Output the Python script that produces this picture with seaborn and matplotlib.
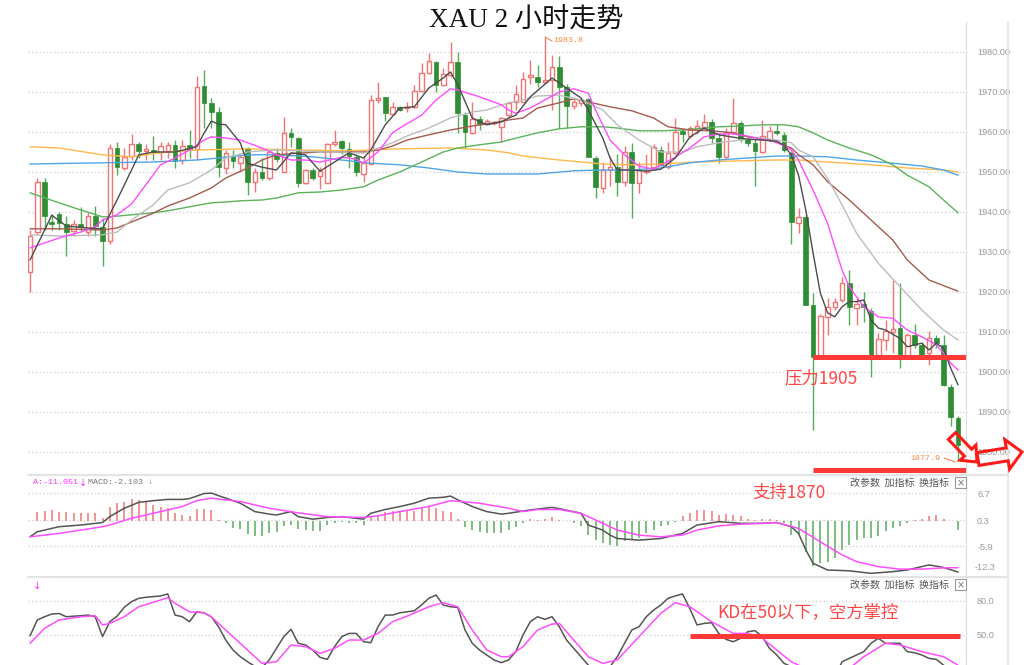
import numpy as np
import matplotlib
matplotlib.use('Agg')
import matplotlib.pyplot as plt
import seaborn as sns
from matplotlib.patches import Polygon, Rectangle
from matplotlib.lines import Line2D

sns.set_style('white')
plt.rcParams['font.family'] = ['Noto Sans CJK SC', 'DejaVu Sans']

# ---------------- data (2-hour XAU candles) ----------------
opens = [1925, 1935, 1947.5, 1937.5, 1939.5, 1937, 1935.2, 1937, 1935, 1939,
         1936.3, 1932.8, 1956, 1951, 1954, 1957, 1955.3, 1955.5, 1955, 1955.2,
         1956.7, 1953, 1956.8, 1955.7, 1971.4, 1967.3, 1965, 1951, 1954.1, 1952.2,
         1955.9, 1947.6, 1949.9, 1948.4, 1954.8, 1950, 1959.8, 1958.4, 1947.3, 1950.6,
         1949, 1947.3, 1956.9, 1957.8, 1955.7, 1953.7, 1949.5, 1952, 1968, 1968.7,
         1964.4, 1966.3, 1966, 1966.3, 1970.3, 1974.8, 1977.6, 1971.8, 1974.3, 1977.6,
         1964.3, 1959.7, 1963.2, 1962.3, 1962.3, 1961.3, 1964.3, 1967.6, 1967.6, 1973.8,
         1973.8, 1972.6, 1973, 1976.3, 1971.2, 1966.5, 1967.3, 1968.2, 1953.4, 1945.9,
         1950.5, 1951.3, 1947.6, 1955.1, 1947.2, 1950, 1951.3, 1955.5, 1951.3, 1954.7,
         1960.2, 1959, 1960.5, 1961.3, 1962.6, 1958.4, 1953.8, 1960.1, 1962.2, 1958.2,
         1957.3, 1955.1, 1958, 1960.2, 1959.3, 1954.8, 1937.2, 1938.8, 1916.8, 1903.8,
         1913.8, 1916.3, 1918, 1922.2, 1916, 1917, 1915.3, 1904.3, 1908, 1910,
         1910.9, 1904.1, 1909.3, 1906.8, 1904.7, 1908.4, 1906.8, 1896.3, 1888.4]
highs = [1935.5, 1948.5, 1948.5, 1939.5, 1940, 1939, 1938, 1941.3, 1940, 1941.5,
         1938.5, 1957, 1957.5, 1956, 1959.5, 1957.5, 1957, 1959, 1957.5, 1957.5,
         1958, 1958, 1960.5, 1974, 1975.5, 1968.5, 1966.3, 1955.5, 1955.5, 1954.5,
         1956.3, 1951, 1953.5, 1955.5, 1956, 1963.7, 1961, 1958.8, 1950.8, 1951,
         1951.2, 1957.2, 1960.5, 1958, 1957.5, 1954.5, 1953.8, 1969.3, 1972.6, 1968.8,
         1967.5, 1966.5, 1967.5, 1971.8, 1977.2, 1979.7, 1977.8, 1976, 1982.6, 1980.1,
         1965, 1967.6, 1964, 1963.2, 1962.8, 1963.8, 1967.5, 1971.8, 1975.1, 1978,
         1976.8, 1983.8, 1979.3, 1979, 1972, 1968.2, 1968.5, 1968.5, 1954, 1952.5,
         1954, 1954.5, 1956.5, 1957.2, 1952.5, 1954.5, 1957, 1956.5, 1957.5, 1963.4,
         1961, 1961.5, 1963, 1964.5, 1963.2, 1959.5, 1961, 1968.4, 1962.8, 1959,
         1958.5, 1963, 1961.5, 1962, 1960, 1955.2, 1940.9, 1939.5, 1919.7, 1914.5,
         1918.4, 1918.5, 1923.8, 1925.5, 1918.5, 1920, 1916, 1909.8, 1913, 1923,
         1922.2, 1909.8, 1912, 1907.5, 1910.2, 1909.2, 1909.2, 1897, 1889]
lows = [1920, 1934.5, 1935.5, 1935.5, 1935.5, 1929, 1934, 1935, 1934, 1934,
        1926.5, 1932, 1949.2, 1950.5, 1953, 1953.5, 1953, 1953, 1953, 1953.5,
        1951, 1952, 1953.5, 1953, 1961, 1961, 1948.8, 1949.5, 1951, 1950,
        1944.3, 1945, 1948, 1948, 1952.5, 1950, 1956.3, 1946.3, 1947, 1948,
        1945.8, 1947.3, 1956.5, 1954.5, 1951, 1949, 1947.6, 1952, 1967.2, 1962.8,
        1964.2, 1965.2, 1965, 1966, 1970.1, 1974.5, 1970.1, 1971.5, 1973.8, 1959.7,
        1955.9, 1959.5, 1960.5, 1962, 1961.8, 1957.6, 1963.5, 1965.5, 1967.6, 1972,
        1971.3, 1972, 1965.5, 1961, 1961, 1965.8, 1966.5, 1953.8, 1943.4, 1944.7,
        1946.5, 1943.9, 1946.5, 1938.4, 1944.7, 1949.5, 1950.5, 1951.5, 1950.8, 1954.5,
        1957.5, 1958.5, 1959.5, 1960.5, 1957.3, 1952.2, 1953.5, 1959.5, 1957.5, 1956.5,
        1946.4, 1954.8, 1957.5, 1959.3, 1955, 1932, 1934.7, 1916.8, 1885.5, 1903.5,
        1909.3, 1915.5, 1917.5, 1911.8, 1911.8, 1912.5, 1898.8, 1903.8, 1905.5, 1904.7,
        1900.9, 1903.8, 1906, 1903.8, 1901.8, 1906, 1896.5, 1886.5, 1877.9]
closes = [1934, 1947.5, 1939, 1937, 1937.2, 1935, 1937, 1936.3, 1939, 1936.5,
          1932.8, 1956, 1951.3, 1953.8, 1957, 1955.2, 1955.8, 1955, 1956.5, 1956.7,
          1952.8, 1956.5, 1955.5, 1971.3, 1967.3, 1965, 1951.3, 1954.7, 1952.8, 1953.8,
          1947.6, 1950.1, 1948.5, 1955.1, 1953.2, 1959.8, 1958.8, 1947.3, 1950.6, 1948.5,
          1950.3, 1957, 1957.6, 1955.9, 1954, 1949.9, 1952.2, 1968, 1968.6, 1964.8,
          1966.3, 1965.5, 1966.3, 1970.3, 1974.8, 1977.8, 1971.8, 1974.5, 1977.6, 1964.7,
          1960.1, 1963.2, 1962, 1962.8, 1962.6, 1963.5, 1967.2, 1969.5, 1973.3, 1974.2,
          1972.6, 1973, 1976.3, 1971.3, 1966.5, 1967.6, 1968, 1953.8, 1946.3, 1950.5,
          1951.3, 1947.6, 1955.1, 1947.2, 1950.5, 1950.6, 1956.3, 1951.8, 1954.7, 1960.1,
          1959.6, 1960.9, 1961.5, 1962.6, 1958.4, 1953.8, 1960.1, 1962.2, 1958.2, 1957.3,
          1955.3, 1959, 1960.3, 1959.7, 1955.5, 1937.6, 1938.8, 1916.8, 1903.8, 1914,
          1916.3, 1917.6, 1922.3, 1916.3, 1917, 1916.3, 1904.3, 1908.2, 1910.3, 1910.8,
          1904.3, 1909.3, 1906.8, 1904.3, 1908.4, 1907.2, 1896.8, 1888.8, 1881.8]

# moving averages (candle index, value)
ma5_idx = [0, 3, 5, 8, 10, 12, 14, 15, 17, 20, 23, 24, 25, 26, 27, 29, 30, 32, 34, 36, 38, 40, 42, 44, 46, 47,
           49, 51, 53, 55, 57, 58, 59, 61, 63, 65, 66, 67, 69, 72, 74, 76, 77, 79, 80, 81, 83, 85, 87, 89, 91,
           93, 95, 97, 99, 101, 103, 104, 105, 106, 107, 108, 109, 110, 111, 112, 113, 114, 115, 116, 117, 118,
           120, 121, 122, 123, 124, 125, 126, 127, 128]
ma5 = [1928, 1939.2, 1936.5, 1936, 1935.8, 1943, 1950.5, 1954.3, 1955, 1955, 1956.3, 1959.7, 1962.7, 1962,
       1961.8, 1957.3, 1952.2, 1951.2, 1950.5, 1954.8, 1954.3, 1950.2, 1952.5, 1954.8, 1953.5, 1955.5,
       1961.8, 1966, 1966.3, 1971, 1973.5, 1975, 1971.8, 1963.5, 1961.8, 1962.5, 1963.5, 1964.2, 1968.8,
       1973.5, 1971, 1968.5, 1965.5, 1958.5, 1953.5, 1950.5, 1950.5, 1950.2, 1950.7, 1953.5, 1958.7,
       1961, 1959.3, 1958.7, 1958.2, 1958, 1957.7, 1956.7, 1954.3, 1949.2, 1940.5, 1929.8, 1919.8, 1914.8,
       1913.8, 1916.3, 1917.6, 1917.6, 1918, 1913, 1911, 1910.5, 1908.4, 1906.3, 1906.8, 1907.2, 1905.5,
       1907.2, 1905.9, 1900.9, 1896.8]
ma10_idx = [0, 4, 7, 9, 10, 12, 14, 17, 18, 20, 22, 24, 25, 27, 29, 32, 34, 36, 38, 40, 43, 45, 46, 48, 50,
            51, 54, 56, 58, 59, 62, 65, 66, 67, 69, 71, 73, 75, 77, 78, 80, 82, 84, 86, 87, 89, 91, 93, 95, 97,
            99, 101, 103, 105, 106, 107, 108, 110, 112, 113, 115, 117, 119, 121, 123, 125, 126, 127, 128]
ma10 = [1931, 1933.5, 1935, 1936.3, 1938, 1939.3, 1942, 1949.3, 1951.8, 1953.5, 1955.5, 1958, 1958.8,
        1958.5, 1958, 1956, 1954.3, 1953, 1953, 1952.5, 1953.7, 1953.2, 1952.2, 1955, 1959.8, 1961, 1964.2,
        1968, 1970.8, 1970.5, 1968.8, 1966.8, 1965.5, 1964.7, 1966, 1968, 1970, 1970.8, 1969.7, 1965.5,
        1958, 1954.3, 1951.5, 1950.7, 1951.7, 1953.7, 1956, 1958.8, 1959.5, 1959.5, 1959, 1958.2, 1957.5,
        1955.5, 1953, 1949.2, 1945.5, 1937.2, 1925.5, 1921.3, 1916.3, 1913.8, 1913.4, 1910.5, 1908.8,
        1906.8, 1904.7, 1902.2, 1900.5]
ma20_idx = [0, 4, 10, 12, 14, 17, 19, 22, 25, 27, 30, 32, 34, 37, 40, 43, 46, 48, 50, 52, 55, 58, 61, 63,
            66, 68, 70, 73, 76, 79, 81, 84, 87, 90, 92, 95, 98, 101, 103, 105, 106, 108, 110, 112, 114, 117,
            120, 123, 126, 128]
ma20 = [1934.3, 1934, 1934.3, 1935, 1938, 1941.8, 1945.5, 1947.3, 1950.5, 1953.5, 1955, 1955.3, 1955.5,
        1955.3, 1955, 1955, 1954.7, 1956, 1957.3, 1959, 1961, 1963.5, 1965, 1965.5, 1967.3, 1968, 1969,
        1969.2, 1968, 1965.5, 1961.8, 1958, 1955, 1955, 1956.3, 1957.3, 1958, 1958.5, 1958, 1957.3, 1955.5,
        1953.8, 1948.4, 1941.8, 1934.7, 1927.2, 1921.3, 1915.5, 1910.5, 1908]
ma30_idx = [0, 4, 10, 12, 14, 17, 19, 22, 25, 27, 30, 32, 34, 37, 40, 43, 46, 48, 50, 52, 55, 58, 61, 63,
            66, 68, 70, 73, 75, 77, 80, 83, 86, 88, 91, 94, 97, 99, 102, 105, 106, 108, 110, 113, 116, 119,
            121, 124, 128]
ma30 = [1935.8, 1935.8, 1935.5, 1936, 1937.5, 1939.7, 1941.5, 1943.5, 1946, 1948.5, 1951, 1953, 1954.3,
        1954.7, 1955, 1955, 1955, 1955.5, 1956.5, 1958, 1959.3, 1960.5, 1961.5, 1962, 1963, 1963.5, 1966,
        1967.3, 1968.3, 1967.5, 1966.3, 1965.3, 1963.5, 1961.3, 1960.5, 1960.3, 1959.8, 1958.8, 1958, 1956,
        1954.3, 1951.8, 1947.6, 1943, 1938, 1933, 1928, 1923, 1920.2]
ma60_idx = [0, 4, 7, 10, 11, 14, 17, 19, 22, 25, 27, 29, 32, 34, 37, 40, 43, 46, 48, 51, 54, 57, 59, 62,
            65, 66, 70, 73, 76, 79, 81, 84, 87, 90, 92, 95, 98, 101, 104, 106, 108, 110, 113, 116, 119, 121,
            124, 126, 128]
ma60 = [1944.8, 1942.3, 1940.5, 1938.8, 1938.8, 1939.3, 1939.8, 1940.3, 1941.3, 1942.3, 1942.5, 1942.8,
        1943, 1943.5, 1944.8, 1945, 1945.5, 1946.3, 1948, 1950, 1952.5, 1955, 1956, 1956.8, 1957.5, 1958,
        1959.8, 1960.8, 1961.3, 1961.3, 1961, 1960.3, 1960.3, 1960.5, 1960.8, 1961.3, 1961.5, 1961.8,
        1961.8, 1961.3, 1959.8, 1958, 1956, 1954.3, 1951.8, 1949.2, 1946.3, 1943, 1939.8]
ma120_idx = [0, 10, 17, 23, 26, 30, 34, 39, 43, 47, 51, 55, 59, 63, 66, 70, 75, 79, 83, 87, 91, 95, 99,
             103, 106, 110, 114, 119, 123, 126, 128]
ma120 = [1952, 1952.3, 1952.5, 1953, 1953.5, 1954.3, 1954.3, 1953.8, 1953, 1952.2, 1951.8, 1951, 1950,
         1949.5, 1949.5, 1949.5, 1950.3, 1950.5, 1950.5, 1951, 1952.3, 1953, 1953.5, 1954, 1954, 1953.8,
         1953, 1952.2, 1951.5, 1950.5, 1949.2]
ma250_idx = [0, 4, 10, 14, 18, 23, 30, 37, 44, 51, 58, 63, 66, 68, 73, 79, 83, 87, 92, 98, 103, 106, 110,
             116, 121, 126, 128]
ma250 = [1956.3, 1956, 1954.3, 1953.8, 1954.8, 1955.5, 1955.8, 1955.5, 1955.3, 1955.8, 1956, 1955.5,
         1954.8, 1954, 1953, 1952, 1951.8, 1952, 1952.5, 1952.8, 1953, 1953, 1952.5, 1951.8, 1951, 1950.5,
         1950]

# MACD
macd_hist = [0, 2.3, 2.5, 2.6, 2.3, 2.1, 2.0, 1.9, 1.9, 2.0, 0.8,
             3.4, 4.4, 4.6, 5.2, 5.0, 4.8, 3.9, 3.5, 3.1, 2.0,
             1.6, 1.2, 3.0, 3.0, 2.7, 0.4, -0.3, -1.5, -1.9, -3.1,
             -3.5, -3.5, -2.7, -2.6, -1.2, -0.8, -1.9, -2.1, -2.3, -2.3,
             -1.0, -0.4, -0.2, -0.4, -0.5, -1.0, 1.2, 1.6, 2.3, 2.5,
             2.3, 2.5, 2.5, 3.3, 3.6, 3.1, 2.5, 2.3, 0.5, -1.3,
             -2.1, -2.6, -2.9, -2.9, -2.9, -2.0, -1.4, -0.3, 0.5, 0.35,
             0.5, 1.0, 0.4, 0.1, -0.4, -1.1, -3.2, -4.4, -5.2, -5.6,
             -5.8, -4.8, -4.4, -4.0, -2.8, -2.0, -1.2, -0.8, -0.1, 1.2,
             2.0, 2.6, 2.8, 2.4, 1.6, 1.8, 1.6, 1.2, 0.5, 0.35,
             0.5, 0.5, 0.35, -0.3, -3.2, -3.2, -7.2, -10.6, -10.0, -9.6,
             -8.8, -6.8, -5.6, -4.4, -4.0, -4.0, -3.5, -2.4, -1.6, -1.1,
             -0.3, 0.35, 0.5, 1.2, 1.6, 0.5, 0.1, -2.0]
dif_idx = [0, 1, 3, 4, 7, 9, 10, 11, 13, 15, 17, 19, 21, 22, 23, 24, 25, 27, 29, 31, 33, 34, 36, 37, 39,
           41, 43, 46, 47, 49, 51, 53, 55, 57, 58, 59, 61, 63, 65, 66, 69, 72, 73, 76, 77, 79, 80, 81, 84,
           87, 90, 92, 95, 98, 101, 103, 105, 106, 107, 108, 110, 113, 116, 119, 121, 124, 126, 128]
dif = [-3.7, -2.5, -1.7, -1.3, -0.9, -0.5, -0.3, 1.1, 3.1, 4.5, 4.9, 5.2, 5.2, 5.4, 6.0, 6.6, 6.7, 5.5,
       4.3, 2.3, 1.7, 1.5, 2.3, 1.1, 0.5, 0.9, 1.1, 0.5, 1.9, 2.8, 3.5, 4.3, 5.5, 5.7, 6.0, 5.1, 3.5, 2.3,
       1.7, 1.9, 2.7, 3.3, 3.0, 1.9, -0.9, -2.1, -3.3, -4.1, -4.5, -4.1, -2.9, -0.9, -0.1, -0.5, -0.5,
       -0.3, -1.3, -2.9, -6.8, -10.0, -11.6, -11.8, -12.4, -12.0, -11.6, -10.4, -11.0, -12.1]
dea_idx = [0, 4, 10, 11, 14, 17, 21, 23, 25, 29, 33, 37, 41, 46, 48, 51, 55, 58, 62, 66, 68, 70, 73, 76,
           79, 81, 84, 87, 90, 92, 95, 98, 101, 103, 106, 109, 112, 114, 117, 120, 123, 126, 128]
dea = [-3.7, -2.9, -1.3, -0.9, 0.7, 1.9, 3.5, 4.9, 5.5, 4.7, 3.1, 2.0, 1.1, 0.9, 1.3, 2.3, 3.5, 4.9, 4.3,
       3.1, 2.3, 2.8, 2.8, 1.9, -0.5, -2.1, -3.3, -3.7, -3.3, -2.1, -1.1, -0.7, -0.5, -0.3, -1.7, -4.9,
       -8.0, -9.6, -10.8, -11.4, -11.4, -11.1, -11.05]

# KD
k_line = [49, 63.1, 66, 68.4, 68.9, 66, 66.5, 66.9, 67.5, 66, 48.3, 61.6, 66.5, 74.4, 79.4, 82.4, 83.3,
          83.9, 84.5, 86.3, 67.5, 66, 61.6, 70.4, 69.5, 66, 57.1, 45.3, 36.4, 30.5, 26, 22, 21, 27.6,
          37.9, 48.3, 54.8, 42.4, 40.9, 36.4, 29.9, 28.1, 39.4, 48.3, 51.2, 51.2, 43.8, 42.9, 57.1, 67.5,
          67.5, 69.5, 70.4, 71.3, 76.4, 82.4, 85.3, 76.4, 74.9, 74.3, 54.2, 42.4, 36.4, 32, 27.6, 25.2,
          27.6, 35, 49.8, 61.6, 66, 63.7, 66, 57.1, 45.3, 37.9, 30.5, 23, 18, 17, 21.6, 30.5, 42.4, 54.2,
          57.1, 66, 71.9, 76.4, 82.4, 84.5, 86.3, 73.4, 58.7, 60.1, 60.7, 51.2, 45.9, 43.8, 46.8, 52.7,
          53.6, 48.3, 37.9, 32, 24.6, 21.6, 15, 10, 6, 5, 8, 12, 26, 29, 32, 35, 42.4, 46.8, 42.4, 42.4,
          42.4, 35, 34, 32, 29, 28.1, 23, 18, 14]
d_idx = [0, 2, 4, 7, 9, 10, 11, 13, 15, 18, 19, 20, 22, 24, 25, 27, 30, 32, 34, 36, 38, 40, 42, 44, 46,
         48, 50, 52, 55, 57, 59, 61, 63, 65, 66, 68, 70, 72, 73, 75, 77, 79, 81, 84, 87, 89, 91, 94, 97, 99,
         101, 103, 105, 107, 109, 111, 113, 115, 118, 120, 123, 126, 128]
d_line = [42.4, 55.7, 63.1, 66, 66.9, 58.7, 60.1, 66, 74.9, 80.9, 83, 77.9, 70.4, 69.5, 66, 54.2, 36.4,
          24.6, 26, 40.9, 39.4, 33.5, 37.9, 45.3, 45.3, 51.2, 61.6, 66.5, 74.9, 78.5, 74.9, 54.2, 36.4,
          30.5, 30.5, 39.4, 54.2, 59.5, 60.1, 45.3, 30.5, 24.6, 27.6, 48.3, 69, 78.5, 74.9, 61.6, 51.2,
          51.2, 46.8, 36.4, 26, 20, 14, 14, 20, 30.5, 42.4, 40.9, 35, 30.5, 23]

resist_level, resist_text = 1903.8, '压力1905'
support_level, support_text = 1875.5, '支持1870'
kd_level, kd_text = 48.9, 'KD在50以下，空方掌控'
high_label, low_label = '1983.8', '1877.9'

price_ticks = [1880, 1890, 1900, 1910, 1920, 1930, 1940, 1950, 1960, 1970, 1980]
macd_ticks = [6.7, 0.3, -5.9]
macd_low_label = '-12.3'
kd_ticks = [80.0, 50.0]

# ---------------- figure ----------------
W, H = 1024, 665
fig = plt.figure(figsize=(W / 100, H / 100), dpi=100)
fig.patch.set_facecolor('white')


def fx(px):
    return px / W


def fy(py):
    return 1 - py / H


L, R = 28, 966
ax = fig.add_axes([fx(L), fy(474), fx(R) - fx(L), fy(22) - fy(474)])
axm = fig.add_axes([fx(L), fy(576), fx(R) - fx(L), fy(476) - fy(576)])
axk = fig.add_axes([fx(L), 0, fx(R) - fx(L), fy(578)])

RED = '#f27474'
GREEN = '#2f8d35'
GREEN_W = '#55ad55'
GRID = '#d6d6d6'
TICKC = '#9a9a9a'
MONO = ['Liberation Mono', 'DejaVu Sans Mono']
TICKF = ['Liberation Sans', 'DejaVu Sans']

o = np.array(opens); h = np.array(highs); l = np.array(lows); c = np.array(closes)
N = len(c)
idx = np.arange(N)
up = c >= o
blo = np.minimum(o, c)
bh = np.maximum(np.abs(c - o), 0.25)

ax.vlines(idx[up], l[up], h[up], color=RED, lw=1.0, zorder=2)
ax.vlines(idx[~up], l[~up], h[~up], color=GREEN_W, lw=1.0, zorder=2)
ax.bar(idx[up], bh[up], bottom=blo[up], width=0.62, facecolor='white', edgecolor=RED, lw=1.0, zorder=3)
ax.bar(idx[~up], bh[~up], bottom=blo[~up], width=0.66, color=GREEN, edgecolor=GREEN, lw=0.5, zorder=3)

ma_specs = [(ma250_idx, ma250, '#ffb84d'), (ma120_idx, ma120, '#4ea6e6'), (ma60_idx, ma60, '#5cb35c'),
            (ma30_idx, ma30, '#a65a50'), (ma20_idx, ma20, '#bdbdbd'), (ma10_idx, ma10, '#ff4dff'),
            (ma5_idx, ma5, '#4d4d4d')]
for xi, yv, col in ma_specs:
    sns.lineplot(x=xi, y=yv, ax=ax, color=col, lw=1.0, zorder=4)

XL = (-0.28, -0.28 + (R - L) / 7.25)
for a in (ax, axm, axk):
    a.set_xlim(*XL)
    a.set_xticks([])
    for s in ('top', 'left', 'bottom'):
        a.spines[s].set_visible(False)
    a.spines['right'].set_color('#dcdcdc')
    a.yaxis.tick_right()
    a.tick_params(axis='y', length=0, pad=8, labelcolor=TICKC, labelsize=6.6)
    a.grid(axis='y', ls=':', color=GRID, lw=1.0)
    a.set_facecolor('none')

ax.set_ylim(1970 - (474 - 92) / 4, 1970 + (92 - 22) / 4)
ax.set_yticks(price_ticks)
ax.set_yticklabels(['%.2f' % t for t in price_ticks], family=TICKF)

# MACD
hist = np.array(macd_hist)
axm.vlines(idx, 0, hist, colors=np.where(hist >= 0, '#f08a8a', '#74b874'), lw=1.3, zorder=2)
sns.lineplot(x=dif_idx, y=dif, ax=axm, color='#555555', lw=1.1, zorder=4)
sns.lineplot(x=dea_idx, y=dea, ax=axm, color='#ff4dff', lw=1.1, zorder=4)
axm.set_ylim(0.3 - (576 - 520) / 4.2, 0.3 + (520 - 476) / 4.2)
axm.set_yticks(macd_ticks)
axm.set_yticklabels(['%.1f' % t for t in macd_ticks], family=TICKF)

# KD
sns.lineplot(x=list(idx), y=k_line, ax=axk, color='#555555', lw=1.1, zorder=4)
sns.lineplot(x=d_idx, y=d_line, ax=axk, color='#ff4dff', lw=1.1, zorder=4)
axk.set_ylim(80 - (665 - 601) / 1.125, 80 + (601 - 578) / 1.125)
axk.set_yticks(kd_ticks)
axk.set_yticklabels(['%.1f' % t for t in kd_ticks], family=TICKF)

for a in (ax, axm, axk):
    a.set_xlabel('')
    a.set_ylabel('')

# red annotation lines
ax.hlines(resist_level, 108, XL[1], color='#ff3838', lw=3.6, zorder=6)
ax.hlines(support_level, 108, XL[1], color='#ff3838', lw=3.6, zorder=6)
axk.hlines(kd_level, 91, 128.3, color='#ff3838', lw=3.6, zorder=6)

# separators and frame lines
for yy in (475, 577):
    fig.add_artist(Line2D([fx(L), fx(1008)], [fy(yy), fy(yy)], color='#e4e4e4', lw=1.6))
fig.add_artist(Line2D([fx(1008), fx(1008)], [fy(22), 0], color='#e4e4e4', lw=1.2))

# texts
fig.text(fx(526), fy(21), 'XAU 2 小时走势', ha='center', va='center', fontsize=19.5,
         family=['Liberation Serif', 'Noto Sans CJK SC'], color='#111111')
fig.text(fx(821), fy(378), resist_text, ha='center', va='center', fontsize=12.5, color='#ff4646')
fig.text(fx(789), fy(493), support_text, ha='center', va='center', fontsize=12.5, color='#ff4646')
fig.text(fx(808), fy(612), kd_text, ha='center', va='center', fontsize=12.5, color='#ff4646')

fig.text(fx(975), fy(568), macd_low_label, ha='left', va='center', fontsize=6.6, color=TICKC, family=TICKF)

fig.text(fx(553), fy(41), high_label, ha='left', va='center', fontsize=6, color='#f08a4b', family=MONO)
fig.add_artist(Line2D([fx(545), fx(552)], [fy(37), fy(41)], color='#f08a4b', lw=0.8))
fig.text(fx(940), fy(458), low_label, ha='right', va='center', fontsize=6, color='#f08a4b', family=MONO)
fig.add_artist(Line2D([fx(944), fx(955)], [fy(458), fy(462)], color='#f08a4b', lw=0.8))

fig.text(fx(33), fy(483), 'A:-11.051', ha='left', va='center', fontsize=6, color='#ff33ff', family=MONO)
fig.text(fx(79), fy(483), '↓', ha='left', va='center', fontsize=7, color='#ff33ff', family=['DejaVu Sans'])
fig.text(fx(88), fy(483), 'MACD:-2.103 ↓', ha='left', va='center', fontsize=6, color='#777777', family=MONO)
fig.text(fx(33), fy(586), '↓', ha='left', va='center', fontsize=7.5, color='#ff33ff', family=['DejaVu Sans'])

for yy in (483, 585):
    fig.text(fx(850), fy(yy), '改参数  加指标  换指标', ha='left', va='center', fontsize=7.2, color='#555555')
    fig.add_artist(Rectangle((fx(955), fy(yy + 5)), fx(11), 11 / H, transform=fig.transFigure,
                             facecolor='white', edgecolor='#999999', lw=0.8))
    fig.text(fx(960.5), fy(yy), '×', ha='center', va='center', fontsize=7, color='#777777',
             family=['DejaVu Sans'])


def arrow(x0, y0, x1, y1, sw, hw, hl):
    d = np.array([x1 - x0, y1 - y0], float)
    Ln = np.hypot(*d)
    u = d / Ln
    n = np.array([-u[1], u[0]])
    p0 = np.array([x0, y0], float)
    base = p0 + u * (Ln - hl)
    pts = [p0 + n * sw, base + n * sw, base + n * hw, p0 + u * Ln,
           base - n * hw, base - n * sw, p0 - n * sw]
    return [(fx(px), fy(py)) for px, py in pts]


for args in [(952, 436, 977, 462, 5, 11, 13), (978, 459, 1022, 452, 6.5, 15, 15)]:
    fig.add_artist(Polygon(arrow(*args), closed=True, transform=fig.transFigure,
                           facecolor='none', edgecolor='#ff1a1a', lw=2.2, zorder=10))

fig.savefig('out.png', dpi=100, facecolor='white')
